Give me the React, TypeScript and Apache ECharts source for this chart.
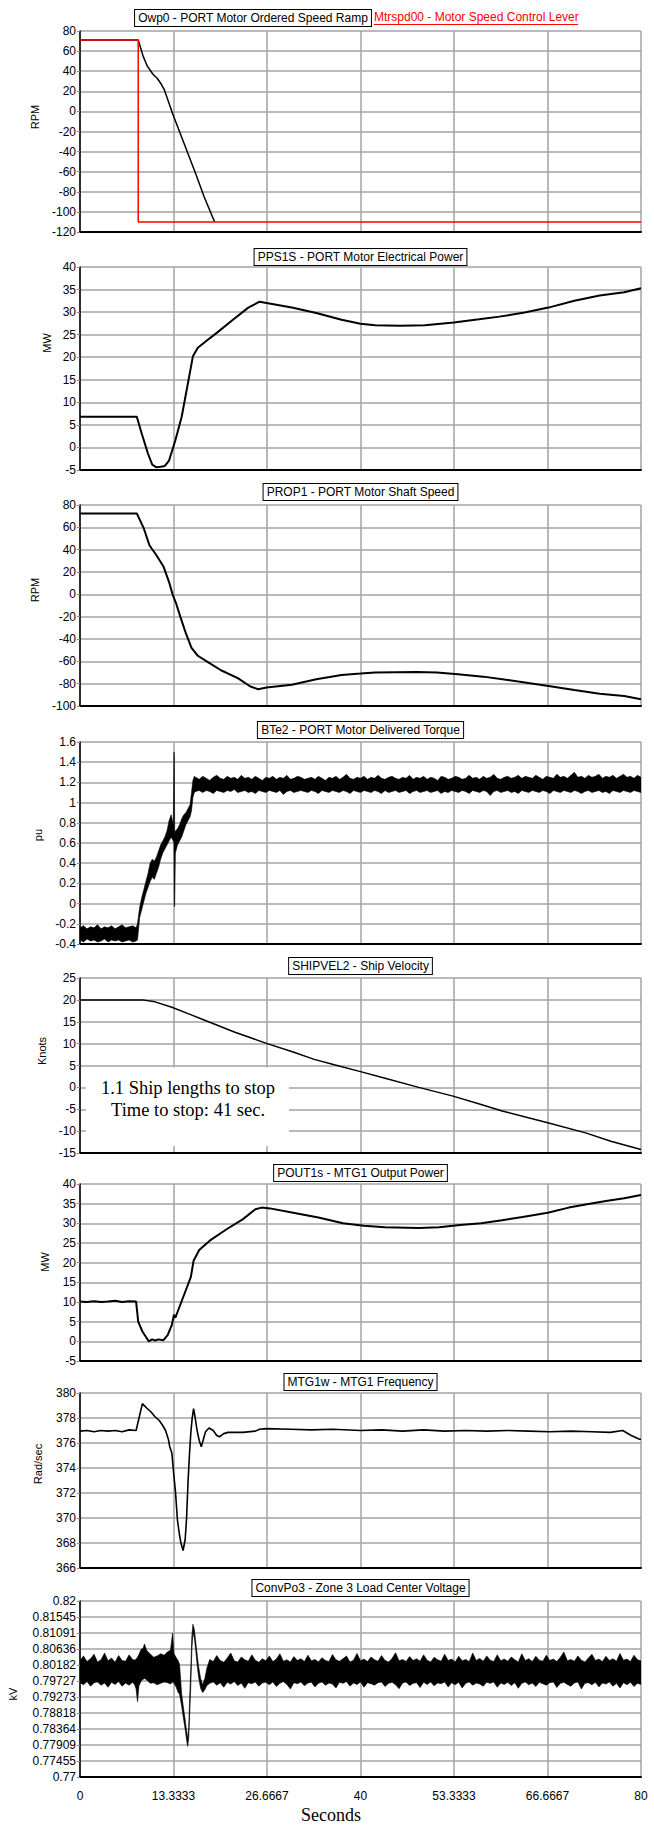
import React, { useEffect, useRef } from "react";
import * as echarts from "echarts";

// ---------------- data ----------------
// x axis: seconds, 0..80 split into six equal steps
const timeMin = 0;
const timeMax = 80;
const timeSteps = 6;

// Panel 1: Owp0 - PORT Motor Ordered Speed Ramp (RPM)
const ordTime = [0, 8.3, 9.0, 9.6, 10.4, 11.0, 11.6, 12.0, 13.2, 16.5, 17.7, 19.2];
const ordRpm = [71, 71, 55, 45, 37, 33, 27, 22, -2, -62, -85, -110];
// Panel 1: Mtrspd00 - Motor Speed Control Lever (RPM)
const leverTime = [0, 8.3, 8.3, 80];
const leverRpm = [71, 71, -110, -110];

// Panel 2: PPS1S - PORT Motor Electrical Power (MW)
const elecTime = [0, 8.1, 8.8, 9.7, 10.3, 10.9, 11.5, 12.1, 12.7, 13.6, 14.5, 15.4, 16.1, 16.8, 18.0, 19.5, 21.9, 24.0, 25.6, 26.6, 30.2, 33.7, 37.3, 40, 42.1, 45.6, 49.2, 53.3, 56.9, 59.8, 63.4, 66.8, 70.5, 74.1, 77.6, 80];
const elecMw = [6.8, 6.8, 3.1, -1.4, -3.8, -4.4, -4.3, -4.1, -2.9, 1.6, 6.8, 14.3, 20.2, 22.1, 23.6, 25.4, 28.4, 31.0, 32.3, 32.0, 31.0, 29.8, 28.3, 27.4, 27.1, 27.0, 27.1, 27.7, 28.4, 29.0, 29.9, 31.0, 32.5, 33.7, 34.4, 35.3];

// Panel 3: PROP1 - PORT Motor Shaft Speed (RPM)
const shaftTime = [0, 8.1, 9.1, 9.9, 10.9, 11.9, 12.7, 13.2, 13.7, 14.3, 15.1, 15.9, 16.8, 18.3, 20.1, 22.5, 24.3, 25.4, 26.6, 30.2, 33.7, 37.3, 40, 42.1, 48, 50.9, 53.9, 57.5, 61, 66.8, 70.5, 74.1, 77.6, 80];
const shaftRpm = [72.5, 72.5, 59, 44, 35, 25, 11, 0, -8, -20, -35, -48, -55, -61, -68, -75, -82.5, -85, -83.5, -81, -76, -72.2, -71, -70, -69.5, -70, -71.5, -73.7, -76.7, -82, -85.7, -89, -91, -94];

// Panel 4: BTe2 - PORT Motor Delivered Torque (pu), noisy band: lower / upper envelope
const torqueTime = [
  0, 0.5, 1, 1.5, 2, 2.5, 3, 3.5, 4, 4.5, 5, 5.5, 6, 6.5, 7, 7.5, 8,
  8.2, 8.5, 8.8, 9.1, 9.4, 9.7, 10.0, 10.3, 10.6, 10.9, 11.2, 11.5, 11.8, 12.1, 12.4, 12.7,
  13.0, 13.3, 13.4, 13.45, 13.5, 13.6, 13.9, 14.2, 14.5, 14.8, 15.1, 15.4, 15.7, 15.9, 16.1, 16.3,
  16.5, 17, 17.5, 18, 18.5, 19, 19.5, 20, 20.5, 21, 21.5, 22, 22.5, 23, 23.5, 24,
  24.5, 25, 25.5, 26, 26.5, 27, 27.5, 28, 28.5, 29, 29.5, 30, 30.5, 31, 31.5, 32,
  32.5, 33, 33.5, 34, 34.5, 35, 35.5, 36, 36.5, 37, 37.5, 38, 38.5, 39, 39.5, 40,
  40.5, 41, 41.5, 42, 42.5, 43, 43.5, 44, 44.5, 45, 45.5, 46, 46.5, 47, 47.5, 48,
  48.5, 49, 49.5, 50, 50.5, 51, 51.5, 52, 52.5, 53, 53.5, 54, 54.5, 55, 55.5, 56,
  56.5, 57, 57.5, 58, 58.5, 59, 59.5, 60, 60.5, 61, 61.5, 62, 62.5, 63, 63.5, 64,
  64.5, 65, 65.5, 66, 66.5, 67, 67.5, 68, 68.5, 69, 69.5, 70, 70.5, 71, 71.5, 72,
  72.5, 73, 73.5, 74, 74.5, 75, 75.5, 76, 76.5, 77, 77.5, 78, 78.5, 79, 79.5, 80,
];
const torqueLow = [
  -0.36, -0.38, -0.35, -0.37, -0.36, -0.38, -0.37, -0.35, -0.38, -0.36, -0.37, -0.36, -0.38, -0.37, -0.36, -0.38, -0.37,
  -0.36, -0.14, -0.06, 0.02, 0.10, 0.16, 0.22, 0.26, 0.24, 0.30, 0.36, 0.44, 0.50, 0.54, 0.58, 0.62,
  0.66, 0.62, 0.60, -0.03, -0.02, 0.50, 0.58, 0.62, 0.66, 0.72, 0.78, 0.82, 0.86, 0.92, 1.05, 1.10,
  1.11, 1.12, 1.10, 1.12, 1.11, 1.09, 1.12, 1.11, 1.10, 1.12, 1.11, 1.13, 1.10, 1.11, 1.12, 1.10,
  1.11, 1.09, 1.12, 1.11, 1.10, 1.12, 1.11, 1.10, 1.12, 1.08, 1.11, 1.12, 1.10, 1.11, 1.12, 1.11,
  1.10, 1.12, 1.11, 1.09, 1.12, 1.11, 1.10, 1.12, 1.11, 1.10, 1.12, 1.11, 1.09, 1.12, 1.11, 1.10,
  1.12, 1.11, 1.10, 1.12, 1.11, 1.09, 1.12, 1.10, 1.11, 1.12, 1.10, 1.11, 1.12, 1.09, 1.11, 1.12,
  1.10, 1.11, 1.12, 1.10, 1.11, 1.12, 1.09, 1.11, 1.10, 1.12, 1.11, 1.10, 1.12, 1.11, 1.09, 1.12,
  1.11, 1.10, 1.12, 1.11, 1.07, 1.11, 1.12, 1.10, 1.11, 1.12, 1.10, 1.11, 1.09, 1.12, 1.11, 1.10,
  1.12, 1.11, 1.10, 1.12, 1.11, 1.09, 1.12, 1.11, 1.10, 1.12, 1.11, 1.10, 1.12, 1.11, 1.09, 1.11,
  1.12, 1.10, 1.11, 1.12, 1.10, 1.11, 1.09, 1.12, 1.11, 1.10, 1.12, 1.11, 1.10, 1.12, 1.11, 1.10,
];
const torqueHigh = [
  -0.24, -0.22, -0.25, -0.23, -0.24, -0.21, -0.25, -0.23, -0.24, -0.22, -0.25, -0.23, -0.21, -0.24, -0.23, -0.22, -0.24,
  -0.20, -0.04, 0.06, 0.14, 0.22, 0.30, 0.40, 0.44, 0.42, 0.46, 0.52, 0.58, 0.62, 0.66, 0.72, 0.82,
  0.88, 0.78, 1.50, 1.45, 0.70, 0.72, 0.74, 0.78, 0.84, 0.88, 0.90, 0.94, 0.98, 1.10, 1.22, 1.26,
  1.25, 1.23, 1.26, 1.24, 1.22, 1.25, 1.27, 1.24, 1.23, 1.26, 1.24, 1.25, 1.23, 1.27, 1.24, 1.25,
  1.23, 1.26, 1.24, 1.22, 1.25, 1.24, 1.26, 1.23, 1.25, 1.24, 1.27, 1.23, 1.24, 1.26, 1.25, 1.23,
  1.24, 1.25, 1.23, 1.26, 1.24, 1.22, 1.25, 1.24, 1.26, 1.23, 1.25, 1.28, 1.24, 1.23, 1.25, 1.24,
  1.26, 1.23, 1.25, 1.24, 1.27, 1.24, 1.23, 1.25, 1.26, 1.24, 1.23, 1.25, 1.24, 1.27, 1.23, 1.25,
  1.24, 1.26, 1.23, 1.25, 1.24, 1.22, 1.26, 1.25, 1.23, 1.24, 1.26, 1.25, 1.23, 1.24, 1.27, 1.24,
  1.25, 1.23, 1.26, 1.24, 1.25, 1.28, 1.24, 1.23, 1.25, 1.26, 1.24, 1.25, 1.27, 1.24, 1.26, 1.25,
  1.24, 1.27, 1.25, 1.23, 1.26, 1.25, 1.24, 1.28, 1.25, 1.26, 1.24, 1.27, 1.30, 1.25, 1.26, 1.24,
  1.27, 1.25, 1.26, 1.28, 1.24, 1.26, 1.25, 1.27, 1.24, 1.26, 1.28, 1.25, 1.26, 1.24, 1.27, 1.25,
];

// Panel 5: SHIPVEL2 - Ship Velocity (Knots)
const velTime = [0, 8.9, 10.7, 13.1, 15.5, 18.5, 22.1, 26.7, 30.4, 33.4, 36.4, 40, 43.5, 48.3, 53.2, 57.2, 60.2, 66.7, 72.1, 75.7, 80];
const velKnots = [20, 20, 19.55, 18.3, 16.8, 14.9, 12.6, 10, 8.1, 6.4, 5.1, 3.6, 2.1, 0, -2, -3.9, -5.4, -8.1, -10.4, -12.3, -14.2];

// Panel 6: POUT1s - MTG1 Output Power (MW)
const genTime = [0, 1, 2, 3, 4, 5, 6, 7, 8.0, 8.3, 8.9, 9.8, 10.3, 10.7, 11.2, 11.9, 12.5, 13.1, 13.4, 13.6, 14.0, 14.9, 15.8, 16.2, 17.0, 18.5, 20.9, 23.2, 25.0, 25.9, 27.1, 30.4, 34, 37.5, 40.5, 43.5, 48.3, 51.2, 54.2, 57.2, 60.2, 63.1, 66.7, 69.7, 72.1, 75, 77.6, 80];
const genMw = [10.1, 10.0, 10.2, 10.0, 10.1, 10.3, 10.0, 10.2, 10.1, 5.0, 2.5, 0.0, 0.5, 0.2, 0.5, 0.3, 1.6, 4.2, 6.8, 6.0, 7.9, 12.1, 16.3, 20.5, 23.2, 25.6, 28.5, 31.0, 33.6, 34.0, 33.8, 32.7, 31.5, 30.0, 29.4, 29.0, 28.8, 29.0, 29.6, 30.0, 30.8, 31.6, 32.7, 34.0, 34.8, 35.7, 36.4, 37.2];

// Panel 7: MTG1w - MTG1 Frequency (Rad/sec)
const freqTime = [0, 1, 2, 3, 4, 5, 6, 7, 8.0, 8.5, 8.9, 9.5, 10.1, 10.7, 11.3, 11.8, 12.2, 12.6, 12.8, 13.1, 13.35, 13.6, 13.9, 14.2, 14.4, 14.7, 15.0, 15.2, 15.4, 15.6, 15.8, 16.0, 16.2, 16.4, 16.7, 17.0, 17.3, 17.6, 17.9, 18.4, 19.0, 19.5, 19.9, 20.5, 21.1, 23.2, 25.0, 25.6, 26.5, 30, 33, 36, 40, 43, 46, 49, 52, 55, 58, 61, 64, 67, 70, 73, 75.6, 77.4, 78.6, 79.8, 80];
const freqRad = [376.95, 377.0, 376.9, 377.0, 376.95, 377.0, 376.9, 377.05, 377.0, 378.2, 379.15, 378.8, 378.5, 378.1, 377.8, 377.4, 377.0, 376.3, 375.7, 375.2, 373.6, 372.2, 369.8, 368.6, 368.0, 367.4, 368.3, 370.0, 372.8, 375.0, 376.8, 378.0, 378.75, 378.1, 377.0, 376.2, 375.7, 376.3, 376.9, 377.2, 377.0, 376.6, 376.5, 376.75, 376.85, 376.85, 376.95, 377.1, 377.15, 377.1, 377.05, 377.1, 377.0, 377.05, 376.95, 377.05, 376.95, 377.0, 376.95, 377.0, 376.95, 376.9, 376.95, 376.9, 376.85, 377.0, 376.6, 376.3, 376.3];

// Panel 8: ConvPo3 - Zone 3 Load Center Voltage (kV), noisy band: lower / upper envelope
const voltTime = [
  0, 0.5, 1, 1.5, 2, 2.5, 3, 3.5, 4, 4.5, 5, 5.5, 6, 6.5, 7, 7.5,
  7.8, 8.0, 8.2, 8.4, 8.7, 9.0, 9.2, 9.5, 9.8, 10.1, 10.5, 11.0, 11.5, 12.0, 12.5, 12.9, 13.2, 13.4, 13.7, 14.0,
  14.2, 14.5, 14.8, 15.0, 15.2, 15.35, 15.5, 15.65, 15.8, 15.95, 16.1, 16.3, 16.5, 16.7, 16.9, 17.2, 17.5, 17.8, 18.1,
  18.5, 19, 19.5, 20, 20.5, 21, 21.5, 22, 22.5, 23, 23.5, 24, 24.5, 25, 25.5, 26,
  26.5, 27, 27.5, 28, 28.5, 29, 29.5, 30, 30.5, 31, 31.5, 32, 32.5, 33, 33.5, 34,
  34.5, 35, 35.5, 36, 36.5, 37, 37.5, 38, 38.5, 39, 39.5, 40, 40.5, 41, 41.5, 42,
  42.5, 43, 43.5, 44, 44.5, 45, 45.5, 46, 46.5, 47, 47.5, 48, 48.5, 49, 49.5, 50,
  50.5, 51, 51.5, 52, 52.5, 53, 53.5, 54, 54.5, 55, 55.5, 56, 56.5, 57, 57.5, 58,
  58.5, 59, 59.5, 60, 60.5, 61, 61.5, 62, 62.5, 63, 63.5, 64, 64.5, 65, 65.5, 66,
  66.5, 67, 67.5, 68, 68.5, 69, 69.5, 70, 70.5, 71, 71.5, 72, 72.5, 73, 73.5, 74,
  74.5, 75, 75.5, 76, 76.5, 77, 77.5, 78, 78.5, 79, 79.5, 80,
];
const voltLow = [
  0.7968, 0.7962, 0.7971, 0.7958, 0.7968, 0.7970, 0.7961, 0.7967, 0.7955, 0.7969, 0.7963, 0.7971, 0.7958, 0.7967, 0.7961, 0.7969,
  0.7962, 0.7950, 0.7914, 0.7958, 0.7972, 0.7978, 0.7980, 0.7976, 0.7970, 0.7966, 0.7968, 0.7962, 0.7966, 0.7970, 0.7968, 0.7964, 0.7970, 0.7966, 0.7956, 0.7940,
  0.7935, 0.7900, 0.7860, 0.7835, 0.7805, 0.7787, 0.7810, 0.7880, 0.7960, 0.8060, 0.8112, 0.8095, 0.8060, 0.8020, 0.7985, 0.7952, 0.7940, 0.7948, 0.7960,
  0.7966, 0.7970, 0.7961, 0.7968, 0.7955, 0.7969, 0.7964, 0.7971, 0.7960, 0.7967, 0.7952, 0.7968, 0.7965, 0.7970, 0.7958, 0.7967,
  0.7969, 0.7962, 0.7970, 0.7957, 0.7966, 0.7971, 0.7963, 0.7950, 0.7968, 0.7965, 0.7970, 0.7959, 0.7967, 0.7969, 0.7956, 0.7966,
  0.7970, 0.7961, 0.7967, 0.7964, 0.7953, 0.7969, 0.7966, 0.7971, 0.7958, 0.7967, 0.7963, 0.7970, 0.7955, 0.7968, 0.7965, 0.7961,
  0.7968, 0.7970, 0.7957, 0.7966, 0.7969, 0.7962, 0.7951, 0.7967, 0.7970, 0.7960, 0.7966, 0.7968, 0.7954, 0.7969, 0.7963, 0.7970,
  0.7959, 0.7967, 0.7965, 0.7970, 0.7956, 0.7968, 0.7962, 0.7969, 0.7953, 0.7966, 0.7970, 0.7961, 0.7967, 0.7964, 0.7958, 0.7969,
  0.7966, 0.7970, 0.7955, 0.7967, 0.7963, 0.7969, 0.7960, 0.7968, 0.7952, 0.7966, 0.7970, 0.7962, 0.7967, 0.7957, 0.7969, 0.7965,
  0.7961, 0.7968, 0.7970, 0.7954, 0.7966, 0.7969, 0.7963, 0.7958, 0.7967, 0.7970, 0.7950, 0.7966, 0.7968, 0.7962, 0.7969, 0.7956,
  0.7967, 0.7964, 0.7970, 0.7958, 0.7966, 0.7953, 0.7968, 0.7962, 0.7969, 0.7957, 0.7966, 0.7963,
];
const voltHigh = [
  0.8031, 0.8044, 0.8028, 0.8036, 0.8049, 0.8027, 0.8033, 0.8052, 0.8030, 0.8038, 0.8026, 0.8045, 0.8031, 0.8029, 0.8047, 0.8034,
  0.8032, 0.8036, 0.8040, 0.8048, 0.8062, 0.8066, 0.8078, 0.8060, 0.8054, 0.8048, 0.8040, 0.8044, 0.8050, 0.8046, 0.8056, 0.8060, 0.8109, 0.8050, 0.8040, 0.8030,
  0.8020, 0.7935, 0.7890, 0.7862, 0.7830, 0.7810, 0.7840, 0.7930, 0.8010, 0.8100, 0.8134, 0.8120, 0.8085, 0.8050, 0.8015, 0.7980, 0.7962, 0.7980, 0.8010,
  0.8034, 0.8028, 0.8045, 0.8031, 0.8026, 0.8038, 0.8052, 0.8030, 0.8027, 0.8041, 0.8033, 0.8029, 0.8047, 0.8032, 0.8026, 0.8036,
  0.8030, 0.8044, 0.8028, 0.8035, 0.8050, 0.8029, 0.8033, 0.8027, 0.8042, 0.8031, 0.8036, 0.8028, 0.8046, 0.8030, 0.8034, 0.8027,
  0.8039, 0.8031, 0.8028, 0.8048, 0.8033, 0.8029, 0.8036, 0.8044, 0.8027, 0.8032, 0.8051, 0.8030, 0.8035, 0.8028, 0.8041, 0.8033,
  0.8029, 0.8045, 0.8031, 0.8027, 0.8037, 0.8053, 0.8030, 0.8034, 0.8028, 0.8042, 0.8031, 0.8036, 0.8029, 0.8047, 0.8032, 0.8027,
  0.8040, 0.8033, 0.8029, 0.8049, 0.8031, 0.8035, 0.8027, 0.8043, 0.8030, 0.8034, 0.8028, 0.8052, 0.8031, 0.8037, 0.8029, 0.8044,
  0.8032, 0.8028, 0.8047, 0.8030, 0.8035, 0.8029, 0.8041, 0.8033, 0.8027, 0.8050, 0.8031, 0.8036, 0.8028, 0.8043, 0.8032, 0.8029,
  0.8046, 0.8031, 0.8035, 0.8028, 0.8040, 0.8055, 0.8030, 0.8034, 0.8029, 0.8044, 0.8032, 0.8027, 0.8038, 0.8049, 0.8031, 0.8035,
  0.8028, 0.8043, 0.8031, 0.8036, 0.8029, 0.8051, 0.8032, 0.8035, 0.8028, 0.8046, 0.8033, 0.8030,
];
// voltage axis tick labels: 0.77 .. 0.82 in eleven equal steps
const voltTickMin = 0.77;
const voltTickMax = 0.82;
const voltTickSteps = 11;

// titles / names / annotation text
const titles = [
  "PPS1S - PORT Motor Electrical Power",
  "PROP1 - PORT Motor Shaft Speed",
  "BTe2 - PORT Motor Delivered Torque",
  "SHIPVEL2 - Ship Velocity",
  "POUT1s - MTG1 Output Power",
  "MTG1w - MTG1 Frequency",
  "ConvPo3 - Zone 3 Load Center Voltage",
];
const title1Black = "Owp0 - PORT Motor Ordered Speed Ramp";
const title1Red = "Mtrspd00 - Motor Speed Control Lever";
const yNames = ["RPM", "MW", "RPM", "pu", "Knots", "MW", "Rad/sec", "kV"];
const yRanges = [
  { min: -120, max: 80, interval: 20 },
  { min: -5, max: 40, interval: 5 },
  { min: -100, max: 80, interval: 20 },
  { min: -0.4, max: 1.6, interval: 0.2 },
  { min: -15, max: 25, interval: 5 },
  { min: -5, max: 40, interval: 5 },
  { min: 366, max: 380, interval: 2 },
  { min: 0, max: voltTickSteps, interval: 1 },
];
const noteLines = ["1.1 Ship lengths to stop", "Time to stop: 41 sec."];
const xName = "Seconds";

// ---------------- layout ----------------
const W = 654;
const H = 1828;
const PLOT_L = 80;
const PLOT_W = 561;
const PLOT_CX = PLOT_L + PLOT_W / 2;
const panelBox = [
  { top: 31, bottom: 232 },
  { top: 267, bottom: 470 },
  { top: 505, bottom: 706 },
  { top: 742, bottom: 944 },
  { top: 978, bottom: 1153 },
  { top: 1184, bottom: 1361 },
  { top: 1393, bottom: 1568 },
  { top: 1601, bottom: 1777 },
];
const titleY = [18, 257, 492, 730, 966, 1173, 1382, 1588];
const nameX = [35, 47, 35, 38, 42, 45, 38, 13];
const nameY = [117, 343, 590, 835, 1051, 1262, 1464, 1694];

const SANS = "'Liberation Sans', Arial, Helvetica, sans-serif";
const SERIF = "'Liberation Serif', 'Times New Roman', serif";
const GRID_GRAY = "#a3a3a3";

const zip = (a: number[], b: number[]) => a.map((v, i) => [v, b[i]]);
const voltToAxis = (v: number) => ((v - voltTickMin) / (voltTickMax - voltTickMin)) * voltTickSteps;

function bandSeries(idx: number, t: number[], lo: number[], hi: number[], toAxis: (v: number) => number) {
  const n = Math.min(t.length, lo.length, hi.length);
  return {
    type: "custom",
    xAxisIndex: idx,
    yAxisIndex: idx,
    silent: true,
    clip: true,
    z: 3,
    data: [[t[0], toAxis(lo[0])]],
    encode: { x: 0, y: 1 },
    renderItem: (_p: any, api: any) => {
      const pts: number[][] = [];
      for (let i = 0; i < n; i++) pts.push(api.coord([t[i], toAxis(hi[i])]));
      for (let i = n - 1; i >= 0; i--) pts.push(api.coord([t[i], toAxis(lo[i])]));
      return {
        type: "polygon",
        shape: { points: pts },
        style: { fill: "#000", stroke: "#000", lineWidth: 0.6 },
      };
    },
  };
}

function lineSeries(idx: number, t: number[], v: number[], color: string, width: number) {
  return {
    type: "line",
    xAxisIndex: idx,
    yAxisIndex: idx,
    data: zip(t, v),
    symbol: "none",
    showSymbol: false,
    silent: true,
    clip: true,
    lineStyle: { color, width },
    z: 3,
  };
}

function buildOption() {
  const grid = panelBox.map((p) => ({
    left: PLOT_L,
    width: PLOT_W,
    top: p.top,
    height: p.bottom - p.top,
    containLabel: false,
    outerBoundsMode: "none",
  }));
  const xAxis = panelBox.map((_, i) => ({
    type: "value",
    gridIndex: i,
    min: timeMin,
    max: timeMax,
    interval: (timeMax - timeMin) / timeSteps,
    axisLine: { show: true, onZero: false, lineStyle: { color: "#000", width: 2 } },
    axisTick: { show: false },
    axisLabel: {
      show: i === panelBox.length - 1,
      color: "#000",
      fontSize: 12,
      fontFamily: SANS,
      margin: 13,
      showMinLabel: true,
      showMaxLabel: true,
      formatter: (v: number) => String(Math.round(v * 10000) / 10000),
    },
    splitLine: { show: true, lineStyle: { color: GRID_GRAY, width: 1.5 } },
  }));
  const yAxis = yRanges.map((r, i) => ({
    type: "value",
    gridIndex: i,
    min: r.min,
    max: r.max,
    interval: r.interval,
    axisLine: { show: true, onZero: false, lineStyle: { color: "#000", width: 1.5 } },
    axisTick: { show: true, length: 3, lineStyle: { color: "#888", width: 1 } },
    axisLabel: {
      color: "#000",
      fontSize: 12,
      fontFamily: SANS,
      margin: 4,
      showMinLabel: true,
      showMaxLabel: true,
      formatter:
        i === 7
          ? (k: number) =>
              String(Math.round((voltTickMin + (k * (voltTickMax - voltTickMin)) / voltTickSteps) * 100000) / 100000)
          : (v: number) => String(Math.round(v * 10000) / 10000),
    },
    splitLine: { show: true, lineStyle: { color: GRID_GRAY, width: 1.5 } },
  }));

  const series: any[] = [
    lineSeries(0, ordTime, ordRpm, "#000", 1.5),
    lineSeries(0, leverTime, leverRpm, "#ff0000", 1.5),
    lineSeries(1, elecTime, elecMw, "#000", 2),
    lineSeries(2, shaftTime, shaftRpm, "#000", 2),
    bandSeries(3, torqueTime, torqueLow, torqueHigh, (v) => v),
    lineSeries(4, velTime, velKnots, "#000", 1.5),
    lineSeries(5, genTime, genMw, "#000", 2),
    lineSeries(6, freqTime, freqRad, "#000", 1.6),
    bandSeries(7, voltTime, voltLow, voltHigh, voltToAxis),
  ];

  const boxedText = (text: string, x: number, y: number) => ({
    type: "text",
    x,
    y,
    z: 100,
    silent: true,
    style: {
      text,
      align: "center",
      verticalAlign: "middle",
      fontSize: 12,
      fontFamily: SANS,
      fill: "#000",
      backgroundColor: "#fff",
      borderColor: "#000",
      borderWidth: 1,
      padding: [2, 3, 2, 3],
    },
  });

  const graphic: any[] = [];
  // panel 1 two-part title
  graphic.push(boxedText(title1Black, 253, titleY[0]));
  graphic.push({
    type: "text",
    x: 374,
    y: titleY[0] - 1,
    z: 100,
    silent: true,
    style: { text: title1Red, align: "left", verticalAlign: "middle", fontSize: 12, fontFamily: SANS, fill: "#ff0000" },
  });
  graphic.push({
    type: "line",
    z: 100,
    silent: true,
    shape: { x1: 374, y1: 24.5, x2: 578, y2: 24.5 },
    style: { stroke: "#ff0000", lineWidth: 1 },
  });
  titles.forEach((t, i) => graphic.push(boxedText(t, PLOT_CX, titleY[i + 1])));
  yNames.forEach((n, i) =>
    graphic.push({
      type: "text",
      x: nameX[i],
      y: nameY[i],
      rotation: Math.PI / 2,
      z: 100,
      silent: true,
      style: { text: n, align: "center", verticalAlign: "middle", fontSize: 11, fontFamily: SANS, fill: "#000" },
    })
  );
  // annotation box on ship velocity panel
  graphic.push({
    type: "rect",
    z: 90,
    silent: true,
    shape: { x: 86, y: 1067.5, width: 203, height: 78.5 },
    style: { fill: "#fff" },
  });
  noteLines.forEach((t, i) =>
    graphic.push({
      type: "text",
      x: 188,
      y: 1088 + i * 22,
      z: 100,
      silent: true,
      style: { text: t, align: "center", verticalAlign: "middle", fontSize: 18.5, fontFamily: SERIF, fill: "#000" },
    })
  );
  graphic.push({
    type: "text",
    x: 331,
    y: 1815,
    z: 100,
    silent: true,
    style: { text: xName, align: "center", verticalAlign: "middle", fontSize: 18, fontFamily: SERIF, fill: "#000" },
  });

  return {
    animation: false,
    backgroundColor: "#ffffff",
    textStyle: { fontFamily: SANS },
    grid,
    xAxis,
    yAxis,
    series,
    graphic,
  };
}

export default function App() {
  const ref = useRef<HTMLDivElement>(null);
  useEffect(() => {
    document.body.style.margin = "0";
    const el = ref.current!;
    const chart = echarts.init(el, null, { renderer: "svg", width: W, height: H });
    chart.setOption(buildOption() as any);
    return () => chart.dispose();
  }, []);
  return <div ref={ref} style={{ width: W, height: H, background: "#fff" }} />;
}
